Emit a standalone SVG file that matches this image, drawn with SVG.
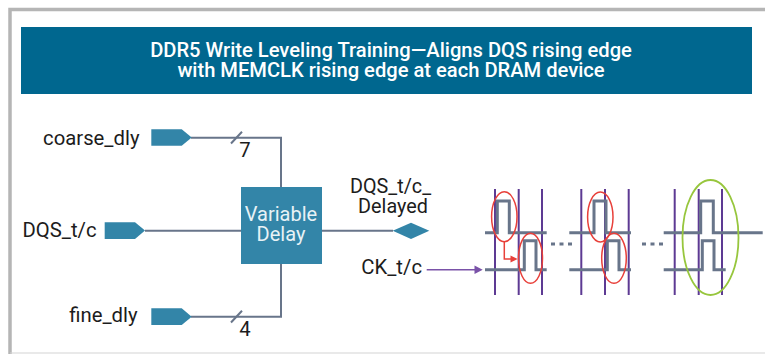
<svg xmlns="http://www.w3.org/2000/svg" width="765" height="354" viewBox="0 0 765 354">
<style>
text{font-family:Roboto,"Liberation Sans",sans-serif;fill:#1c1c1c;font-size:20.3px}
.t{fill:#fff;font-size:20.15px;font-weight:500;text-anchor:middle}
.b{fill:#e8f2f6;font-size:20px;text-anchor:middle}
.m{text-anchor:middle}
.e{text-anchor:end}
.pin{fill:#3385a8}
.w{fill:none;stroke:#68758a;stroke-width:2}
.sig{fill:none;stroke:#68758a;stroke-width:3}
.clk{stroke:#5d3a93;stroke-width:2;fill:none}
.red{fill:none;stroke:#e8403a;stroke-width:1.5}
.dot{stroke:#68758a;stroke-width:3;stroke-dasharray:4 4.5;fill:none}
</style>
<rect width="765" height="354" fill="#fff"/>
<g id="frame"><path d="M766 9.5H10V354" fill="none" stroke="#b5b5b5" stroke-width="3.5"/><path d="M10 353H766" stroke="#d4d4d4" stroke-width="1.2" fill="none"/></g>
<g id="title"><rect x="21" y="27" width="731" height="67" fill="#00678f"/><text class="t"><tspan x="391" y="57">DDR5 Write Leveling Training—Aligns DQS rising edge</tspan><tspan x="391" y="77">with MEMCLK rising edge at each DRAM device</tspan></text></g>
<g id="connectors">
<path class="w" d="M191 137.7H281V187M191 316.7H281V263M145 230.7H241M322 230.7H393"/>
<path class="w" d="M231 143.5L242 131.7M231 322.5L242 310.7" stroke-width="1.5"/>
<path d="M426.7 269.7H476" stroke="#7a52a8" stroke-width="1.6" fill="none"/><path d="M482.7 269.7L474.5 265.5V273.9Z" fill="#7a52a8"/>
</g>
<g id="coarse_dly"><path class="pin" d="M151.3 129.3H181.7L191.7 137.5L181.7 145.7H151.3Z"/><text class="e" x="139.5" y="145">coarse_dly</text><text class="m" x="245" y="156.5">7</text></g>
<g id="DQS_t_c"><path class="pin" d="M104.7 222.3H135L145 230.6L135 239H104.7Z"/><text class="e" x="96.5" y="236.7">DQS_t/c</text></g>
<g id="fine_dly"><path class="pin" d="M151.3 308.3H181.7L191.7 316.7L181.7 325H151.3Z"/><text class="e" x="137.5" y="322.3">fine_dly</text><text class="m" x="245" y="336">4</text></g>
<g id="variable_delay"><rect class="pin" x="241" y="187" width="81" height="77"/><text class="b"><tspan x="281" y="221">Variable</tspan><tspan x="281" y="241">Delay</tspan></text></g>
<g id="DQS_delayed"><path class="pin" d="M392.7 230.8L411 222.7L429.3 230.8L411 239Z"/><text class="m" style="font-size:19.8px"><tspan x="390.5" y="192.7">DQS_t/c_</tspan><tspan x="393" y="212.7">Delayed</tspan></text></g>
<g id="CK_t_c"><text class="e" x="422" y="274">CK_t/c</text></g>
<g id="waveforms">
<path class="clk" d="M495 189V295M518.7 189V295M542 189V295M581.3 189V295M605 189V295M628.7 189V295M674.7 189V295M698.7 189V295M722 189V295"/>
<path class="sig" d="M485 232.7H497.3V201H509.3V232.7H546.7M485 269.7H524.3V240.7H536V269.7H546.7M569.3 232.7H594V201H606V232.7H631M569.3 269.7H607.3V240.7H619V269.7H631M663.7 232.7H700.7V201H713.3V232.7H762.7M663.7 269.7H702.3V240.7H714V269.7H725.7"/>
<path class="dot" d="M551 244H572M642 244H663"/>
<ellipse class="red" cx="504.3" cy="216.7" rx="12.7" ry="25"/><ellipse class="red" cx="530.5" cy="258.3" rx="12" ry="25"/><ellipse class="red" cx="600.3" cy="217" rx="12.7" ry="25"/><ellipse class="red" cx="614" cy="258.3" rx="12.3" ry="25"/>
<path class="red" d="M504.3 241.7V259H513"/><path d="M517.7 259L510.5 255.5V262.5Z" fill="#e8403a"/>
<ellipse cx="710.5" cy="237.5" rx="28" ry="57.5" fill="none" stroke="#97c63d" stroke-width="1.8"/>
</g>
</svg>
